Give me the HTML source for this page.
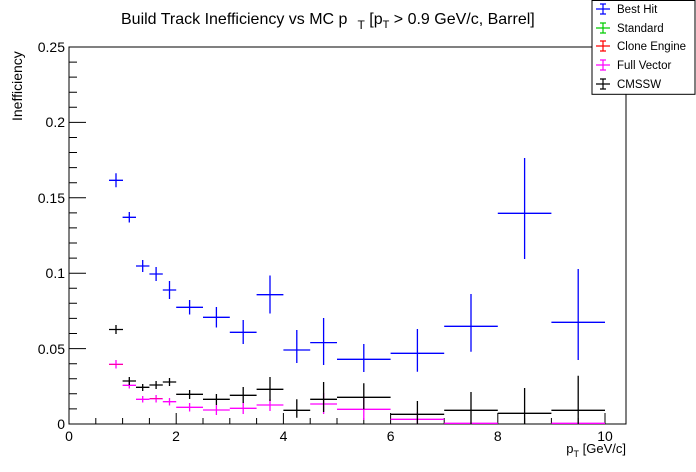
<!DOCTYPE html>
<html><head><meta charset="utf-8"><style>
html,body{margin:0;padding:0;background:#fff}
svg{display:block;font-family:"Liberation Sans",Arial,sans-serif}
</style></head><body>
<svg width="696" height="472" viewBox="0 0 696 472" xmlns="http://www.w3.org/2000/svg">
<rect width="696" height="472" fill="#fff"/>
<!-- frame -->
<rect x="69" y="47" width="557" height="377" fill="none" stroke="#000" stroke-width="1"/>
<!-- y ticks -->
<g stroke="#000" stroke-width="1">
<path d="M69 424h17M69 348.6h17M69 273.2h17M69 197.8h17M69 122.4h17M69 47h17"/>
<path d="M69 408.9h8M69 393.8h8M69 378.7h8M69 363.7h8M69 333.5h8M69 318.4h8M69 303.3h8M69 288.3h8M69 258.1h8M69 243h8M69 227.9h8M69 212.9h8M69 182.7h8M69 167.6h8M69 152.5h8M69 137.5h8M69 107.3h8M69 92.2h8M69 77.1h8M69 62.1h8"/>
<path d="M69 424v-11M176.2 424v-11M283.4 424v-11M390.6 424v-11M497.8 424v-11M605 424v-11"/>
<path d="M95.8 424v-6M122.6 424v-6M149.4 424v-6M203 424v-6M229.8 424v-6M256.6 424v-6M310.2 424v-6M337 424v-6M363.8 424v-6M417.4 424v-6M444.2 424v-6M471 424v-6M524.6 424v-6M551.4 424v-6M578.2 424v-6"/>
</g>
<g font-size="14" text-anchor="end" fill="#000">
<text x="65" y="429">0</text><text x="65" y="354">0.05</text><text x="65" y="278">0.1</text>
<text x="65" y="203">0.15</text><text x="65" y="127">0.2</text><text x="65" y="52">0.25</text>
</g>
<g font-size="14" text-anchor="middle" fill="#000">
<text x="69" y="441">0</text><text x="176" y="441">2</text><text x="283.5" y="441">4</text>
<text x="390.6" y="441">6</text><text x="497.8" y="441">8</text><text x="605" y="441">10</text>
</g>
<text x="626" y="453" font-size="13" text-anchor="end">p<tspan font-size="9" dy="4">T</tspan><tspan dy="-4"> [GeV/c]</tspan></text>
<text transform="translate(22,121) rotate(-90)" font-size="14">Inefficiency</text>
<text x="121" y="24" font-size="16">Build Track Inefficiency vs MC p<tspan dx="10" dy="5" font-size="12">T</tspan><tspan dy="-5"> [p</tspan><tspan font-size="11" dy="4">T</tspan><tspan dy="-4"> &gt; 0.9 GeV/c, Barrel]</tspan></text>

<!-- magenta Full Vector -->
<g stroke="#ff00ff" stroke-width="1.3" fill="none">
<path d="M109 364.3h14M116 360v8.5"/>
<path d="M122.6 385.3h13.4M129.3 382v6.5"/>
<path d="M136 399.3h13.4M142.7 396v6.5"/>
<path d="M149.4 398.7h13.4M156.1 395v7.5"/>
<path d="M162.8 401.7h13.4M169.5 398v7.5"/>
<path d="M176.2 407.3h26.8M189.6 403v8.5"/>
<path d="M203 410h26.8M216.4 405v10"/>
<path d="M229.8 408.3h26.8M243.2 402v12"/>
<path d="M256.6 405h26.8M270 399v12"/>
<path d="M310.2 404h26.8M323.6 393v21"/>
<path d="M337 409.3h53.6M363.8 398v22"/>
<path d="M390.6 419.3h53.6M417.4 412v12"/>
<path d="M444.2 423.3h53.6M551.4 423.3h53.6"/>
</g>
<path d="M109 364.3h14M162 398.7h-12" stroke="#ff0000" stroke-width="0.7" opacity="0.6"/>
<!-- black CMSSW -->
<g stroke="#000" stroke-width="1.3" fill="none">
<path d="M109 329.5h14M116 325v9"/>
<path d="M122.6 381h13.4M129.3 377v8"/>
<path d="M136 387.3h13.4M142.7 384v7"/>
<path d="M149.4 385h13.4M156.1 381v8"/>
<path d="M162.8 382h13.4M169.5 378v8"/>
<path d="M176.2 394.3h26.8M189.6 390v9"/>
<path d="M203 399.3h26.8M216.4 394v11"/>
<path d="M229.8 395.3h26.8M243.2 387v16"/>
<path d="M256.6 389.3h26.8M270 377v24"/>
<path d="M283.4 410.3h26.8M296.8 399.3v18.4"/>
<path d="M310.2 399.3h26.8M323.6 382v30"/>
<path d="M337 397.3h53.6M363.8 383.3v26"/>
<path d="M390.6 414.3h53.6M417.4 401v23"/>
<path d="M444.2 410.3h53.6M471 392v32"/>
<path d="M497.8 413.3h53.6M524.6 388v36"/>
<path d="M551.4 410.3h53.6M578.2 375.7v48.3"/>
</g>
<!-- blue Best Hit -->
<g stroke="#0000ff" stroke-width="1.3" fill="none">
<path d="M109 180.3h14M116 173.3v14"/>
<path d="M122.6 217.3h13.4M129.3 212v10.5"/>
<path d="M136 266h13.4M142.7 260v12"/>
<path d="M149.4 274h13.4M156.1 267v14"/>
<path d="M162.8 290h13.4M169.5 281v18"/>
<path d="M176.2 307.3h26.8M189.6 300v14.5"/>
<path d="M203 317.3h26.8M216.4 307v20.5"/>
<path d="M229.8 332.3h26.8M243.2 320v24"/>
<path d="M256.6 294.7h26.8M270 275.5v38"/>
<path d="M283.4 350h26.8M296.8 330v33"/>
<path d="M310.2 342.6h26.8M323.6 318v47"/>
<path d="M337 359.3h53.6M363.8 344v28"/>
<path d="M390.6 353.3h53.6M417.4 329v42.7"/>
<path d="M444.2 326.3h53.6M471 294v57.7"/>
<path d="M497.8 213.3h53.6M524.6 158v101"/>
<path d="M551.4 322.3h53.6M578.2 269v91"/>
</g>
<!-- legend -->
<rect x="592" y="0.5" width="103" height="93.8" fill="#fff" stroke="#000" stroke-width="1"/>
<g stroke-width="1.2" fill="none">
<path d="M596 9h14M603 4v10M600 4h6M600 14h6" stroke="#0000ff"/>
<path d="M596 28h14M603 23v10M600 23h6M600 33h6" stroke="#00cc00"/>
<path d="M596 46h14M603 41v10M600 41h6M600 51h6" stroke="#ff0000"/>
<path d="M596 65h14M603 60v10M600 60h6M600 70h6" stroke="#ff00ff"/>
<path d="M596 84h14M603 79v10M600 79h6M600 89h6" stroke="#000"/>
</g>
<g font-size="11.5" fill="#000">
<text x="617" y="13">Best Hit</text><text x="617" y="32">Standard</text>
<text x="617" y="50">Clone Engine</text><text x="617" y="69">Full Vector</text>
<text x="617" y="88">CMSSW</text>
</g>
</svg>
</body></html>
